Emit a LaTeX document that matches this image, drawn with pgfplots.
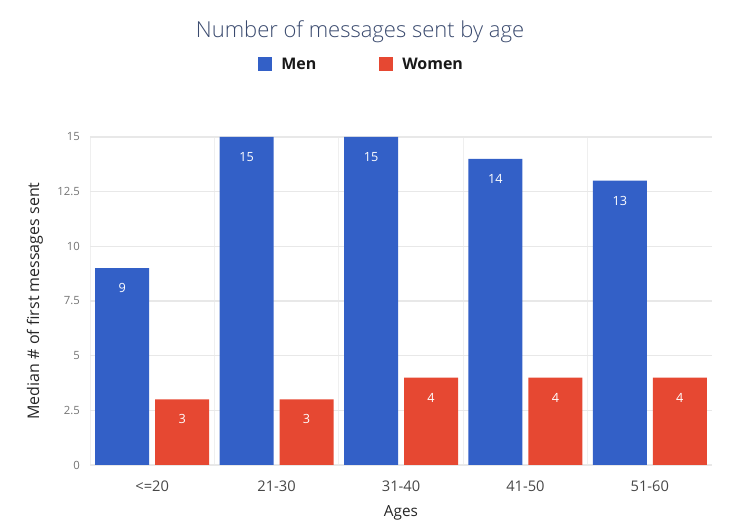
\documentclass[border=0pt]{standalone}
\usepackage{fontspec}
\setmainfont{Open Sans}
\newfontfamily\titlefont{Open Sans Light}
\usepackage{pgfplots}
\pgfplotsset{compat=1.18}
\definecolor{menblue}{RGB}{51,96,199}
\definecolor{womenred}{RGB}{230,72,50}
\definecolor{titlecol}{RGB}{58,74,110}
\definecolor{gridgray}{RGB}{232,232,232}

\begin{document}
\begin{tikzpicture}
% page frame (750x527 px at 0.75pt per px)
\path[use as bounding box] (-67.5pt,-46.5pt) rectangle (495pt,348.75pt);
\begin{axis}[
    at={(0,0)}, anchor=south west,
    scale only axis,
    width=466.5pt, height=246pt,
    ybar,
    bar width=40.5pt,
    xmin=-0.5, xmax=4.5,
    ymin=0, ymax=15,
    xtick={0,1,2,3,4},
    xticklabels={{<=20},{21-30},{31-40},{41-50},{51-60}},
    minor xtick={-0.5,0.5,1.5,2.5,3.5},
    ytick={0,2.5,5,7.5,10,12.5,15},
    /pgf/number format/assume math mode=true,
    ymajorgrids, xminorgrids,
    grid style={draw=gridgray, line width=0.8pt},
    minor grid style={draw=gridgray!70, line width=0.6pt},
    axis line style={draw=none},
    tick style={draw=none},
    minor tick style={draw=none},
    xticklabel style={font=\fontsize{11}{13}\selectfont, text=black!72, yshift=-4pt},
    yticklabel style={font=\fontsize{8.5}{10}\selectfont, text=black!55, xshift=-4pt},
    xlabel={Ages},
    ylabel={Median \# of first messages sent},
    xlabel style={font=\fontsize{11.5}{13}\selectfont, text=black!85,
        at={(axis description cs:0.5,-0.145)}, anchor=center},
    ylabel style={font=\fontsize{12}{14}\selectfont, text=black!85,
        at={(axis description cs:-0.0884,0.5)}, anchor=center, rotate=0},
    nodes near coords,
    every node near coord/.append style={font=\fontsize{9.5}{11}\selectfont,
        text=white, anchor=center, yshift=-15pt},
    clip=false,
]
\addplot[fill=menblue, draw=none, bar shift=-22.5pt] coordinates {
    (0,9) (1,15) (2,15) (3,14) (4,13)
};
\addplot[fill=womenred, draw=none, bar shift=22.5pt] coordinates {
    (0,3) (1,3) (2,4) (3,4) (4,4)
};
\end{axis}
% title
\node[font=\titlefont\fontsize{16.5}{19}\selectfont, text=titlecol] at (202.5pt,324.75pt)
    {Number of messages sent by age};
% legend
\fill[menblue] (126pt,295.5pt) rectangle (136.5pt,306pt);
\node[anchor=west, inner sep=0pt, font=\fontsize{12}{14}\selectfont\bfseries, text=black!90]
    at (143.25pt,300.75pt) {Men};
\fill[womenred] (216.75pt,295.5pt) rectangle (227.25pt,306pt);
\node[anchor=west, inner sep=0pt, font=\fontsize{12}{14}\selectfont\bfseries, text=black!90]
    at (234pt,300.75pt) {Women};
\end{tikzpicture}
\end{document}
